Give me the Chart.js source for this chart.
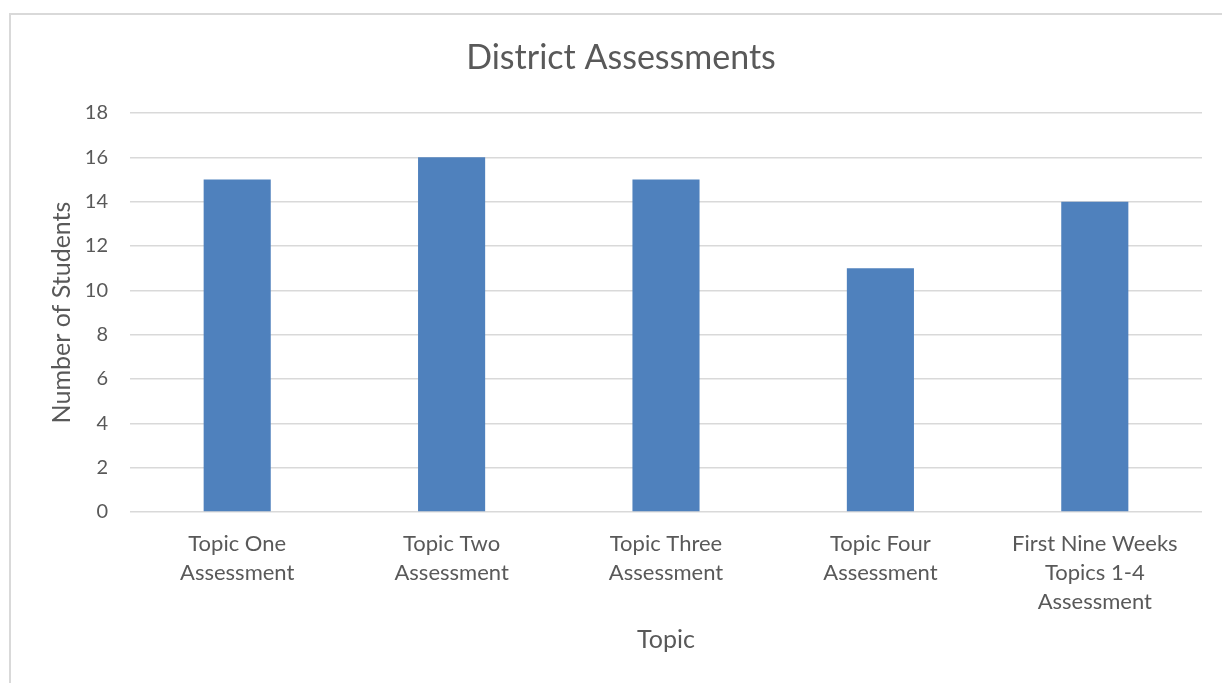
<!DOCTYPE html>
<html>
<head>
<meta charset="utf-8">
<script src="https://cdn.jsdelivr.net/npm/chart.js@4"></script>
<style>
  html, body { margin: 0; padding: 0; background: #ffffff; }
  #wrap { width: 1222px; height: 683px; }
</style>
</head>
<body>
<div id="wrap"><canvas id="c" width="1222" height="683"></canvas></div>
<script>
const chartTitle = 'District Assessments';
const categories = [
  ['Topic One', 'Assessment'],
  ['Topic Two', 'Assessment'],
  ['Topic Three', 'Assessment'],
  ['Topic Four', 'Assessment'],
  ['First Nine Weeks', 'Topics 1-4', 'Assessment']
];
const studentCounts = [15, 16, 15, 11, 14];
const yAxisTitle = 'Number of Students';
const xAxisTitle = 'Topic';

const FONT = 'Lato, "Open Sans", sans-serif';
const TEXT = '#595959';

const framePlugin = {
  id: 'frame',
  beforeDraw(chart) {
    const ctx = chart.ctx;
    ctx.save();
    ctx.fillStyle = '#ffffff';
    ctx.fillRect(0, 0, chart.width, chart.height);
    ctx.strokeStyle = '#d9d9d9';
    ctx.lineWidth = 2;
    ctx.beginPath();
    ctx.moveTo(10, chart.height);
    ctx.lineTo(10, 14);
    ctx.lineTo(chart.width, 14);
    ctx.stroke();
    ctx.restore();
  },
  afterDraw(chart) {
    const ctx = chart.ctx;
    ctx.save();
    ctx.fillStyle = TEXT;
    ctx.font = '34px ' + FONT;
    ctx.textAlign = 'center';
    ctx.textBaseline = 'middle';
    ctx.fillText(chartTitle, 621, 58);
    ctx.restore();
  }
};

new Chart(document.getElementById('c'), {
  type: 'bar',
  data: {
    labels: categories,
    datasets: [{
      data: studentCounts,
      backgroundColor: '#4f81bd',
      borderWidth: 0,
      barPercentage: 0.313,
      categoryPercentage: 1.0
    }]
  },
  options: {
    responsive: false,
    animation: false,
    devicePixelRatio: 1,
    layout: { padding: { top: 113, left: 10, right: 20, bottom: 0 } },
    plugins: {
      legend: { display: false },
      title: { display: false },
      tooltip: { enabled: false }
    },
    scales: {
      x: {
        grid: { display: false, drawTicks: false },
        border: { display: false },
        ticks: {
          color: TEXT,
          font: { family: FONT, size: 22, lineHeight: 1.318 },
          padding: 17.5,
          maxRotation: 0,
          autoSkip: false
        },
        title: {
          display: true,
          text: xAxisTitle,
          color: TEXT,
          font: { family: FONT, size: 25 },
          padding: { top: 0, bottom: 28 }
        },
        afterFit(scale) { scale.height = 171; }
      },
      y: {
        min: 0,
        max: 18,
        grid: { color: '#d9d9d9', lineWidth: 1.5, drawTicks: false },
        border: { display: false },
        ticks: {
          stepSize: 2,
          color: TEXT,
          font: { family: FONT, size: 20 },
          padding: 22
        },
        title: {
          display: true,
          text: yAxisTitle,
          color: TEXT,
          font: { family: FONT, size: 25 },
          padding: { top: 37, bottom: 0 }
        },
        afterFit(scale) { scale.width = 120; }
      }
    }
  },
  plugins: [framePlugin]
});
</script>
</body>
</html>
